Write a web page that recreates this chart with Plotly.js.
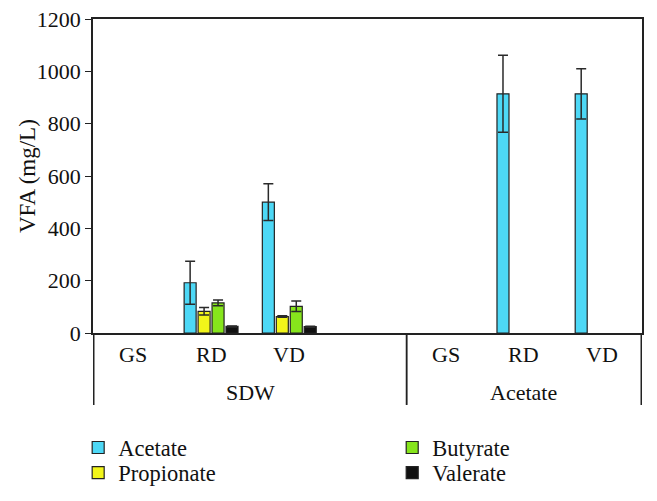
<!DOCTYPE html>
<html>
<head>
<meta charset="utf-8">
<script src="https://cdn.plot.ly/plotly-3.0.1.min.js"></script>
<style>html,body{margin:0;padding:0;background:#fff;}#chart{width:657px;height:501px;}</style>
</head>
<body>
<div id="chart"></div>
<script>
var groups = ['SDW','SDW','SDW','SDW','Acetate','Acetate','Acetate'];
var cats = ['GS','RD','VD','','GS','RD','VD'];
var acetate = [null,192,500,null,null,914,914];
var acetateErr = [0,82,70,0,0,147,96];
var propionate = [null,83,63,null,null,null,null];
var propionateErr = [0,14,3,0,0,0,0];
var butyrate = [null,115,102,null,null,null,null];
var butyrateErr = [0,11,20,0,0,0,0];
var valerate = [null,25,24,null,null,null,null];
var valerateErr = [0,2,2,0,0,0,0];

var FONT = "'Liberation Serif', 'Times New Roman', serif";
var ids = groups.map(function(g,i){ return g + '|' + i; });

function mk(name, y, err, color, legend){
  return {type:'bar', name:name, x:ids, y:y,
    marker:{color:color, line:{color:'#222', width:1.2}},
    error_y:{type:'data', array:err, visible:true, color:'#2a2a2a', thickness:1.5, width:5},
    legend:legend};
}
var data = [
  mk('Acetate', acetate, acetateErr, '#4DD8F6', 'legend'),
  mk('Propionate', propionate, propionateErr, '#F2F51A', 'legend2'),
  mk('Butyrate', butyrate, butyrateErr, '#86E51C', 'legend3'),
  mk('Valerate', valerate, valerateErr, '#111111', 'legend4')
];

var annotations = [];
cats.forEach(function(c,i){
  if(c) annotations.push({x:i, xref:'x', y:-0.067, yref:'paper', text:c, showarrow:false,
    xanchor:'center', yanchor:'middle', font:{family:FONT, size:22, color:'#111'}});
});
var groupNames = [];
groups.forEach(function(g){ if(groupNames.indexOf(g)<0) groupNames.push(g); });
var shapes = [];
groupNames.forEach(function(g){
  var idx = []; groups.forEach(function(gg,i){ if(gg===g) idx.push(i); });
  var lo = idx[0], hi = idx[idx.length-1];
  annotations.push({x:(lo+hi)/2, xref:'x', y:-0.188, yref:'paper', text:g, showarrow:false,
    xanchor:'center', yanchor:'middle', font:{family:FONT, size:22, color:'#111'}});
  shapes.push({type:'line', xref:'x', yref:'paper', x0:lo-0.5, x1:lo-0.5, y0:0, y1:-0.229, line:{color:'#222', width:1.5}});
  shapes.push({type:'line', xref:'x', yref:'paper', x0:hi+0.5, x1:hi+0.5, y0:0, y1:-0.229, line:{color:'#222', width:1.5}});
});
annotations.push({x:-0.12, xref:'paper', y:0.5, yref:'paper', text:'VFA (mg/L)', textangle:-90, showarrow:false,
  xanchor:'center', yanchor:'middle', font:{family:FONT, size:23, color:'#111'}});

function leg(x, y){
  return {orientation:'v', x:x, xanchor:'left', y:y, yref:'container', yanchor:'middle',
    font:{family:FONT, size:22.5, color:'#111'}, bgcolor:'rgba(0,0,0,0)'};
}
var layout = {
  width:657, height:501,
  margin:{l:93, r:15, t:19, b:168, autoexpand:false},
  paper_bgcolor:'#fff', plot_bgcolor:'#fff',
  font:{family:FONT, size:22, color:'#111'},
  barmode:'group', bargap:0.286, bargroupgap:0.14,
  showlegend:true,
  xaxis:{type:'category', showline:true, linecolor:'#222', linewidth:1.5, mirror:true,
    ticks:'', showticklabels:false, showgrid:false},
  yaxis:{range:[0,1200], dtick:200, showgrid:false, zeroline:false, showline:true, linecolor:'#222', linewidth:1.5, mirror:true,
    ticks:'outside', ticklen:6, tickcolor:'#222', tickfont:{family:FONT, size:22, color:'#111'}},
  annotations:annotations,
  shapes:shapes,
  legend:leg(-0.027, 0.106),
  legend2:leg(-0.027, 0.056),
  legend3:leg(0.545, 0.106),
  legend4:leg(0.545, 0.056)
};
Plotly.newPlot('chart', data, layout, {displayModeBar:false});
</script>
</body>
</html>
